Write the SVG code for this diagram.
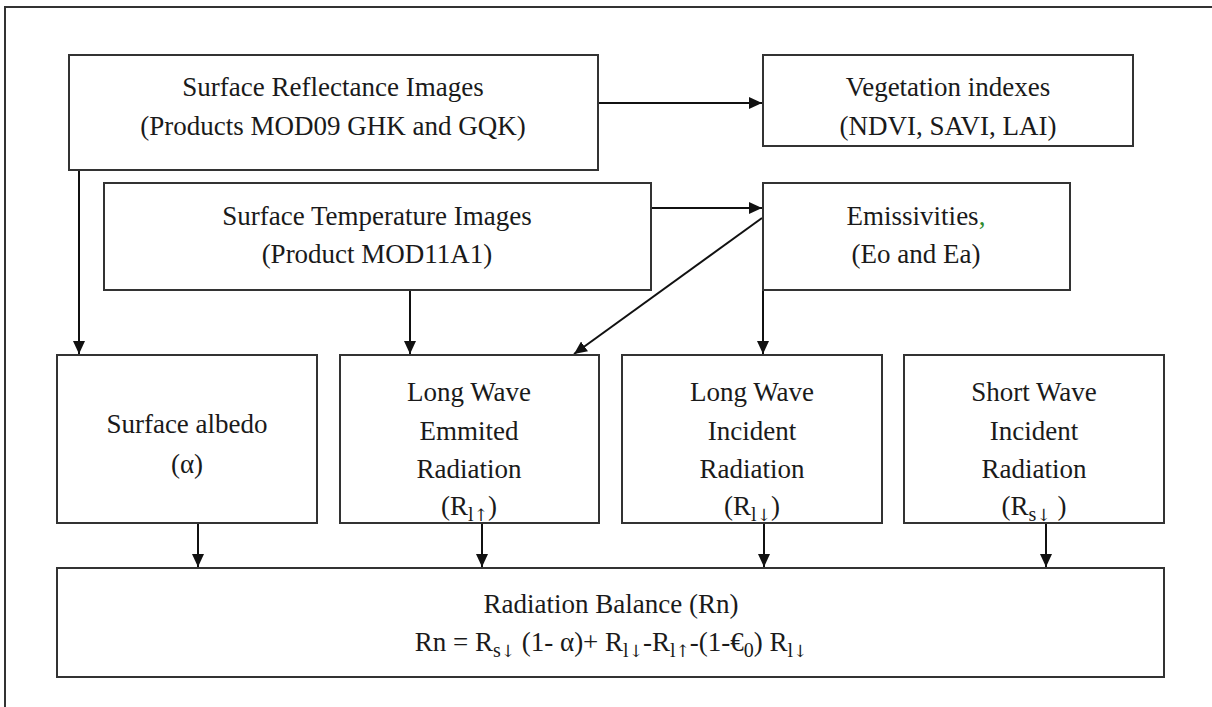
<svg xmlns="http://www.w3.org/2000/svg" width="1212" height="707" viewBox="0 0 1212 707">
<style>
.box{fill:#fff;stroke:#333;stroke-width:2}
.t{font-family:"Liberation Serif","Times New Roman",serif;font-size:27px;fill:#1a1a1a;text-anchor:middle}
.c{stroke:#111;stroke-width:2;fill:none;marker-end:url(#ah)}
.sub{font-size:20px}
.arr{font-family:"DejaVu Serif","DejaVu Sans",serif;font-size:17px;fill:#1a1a1a}
</style>
<defs>
<marker id="ah" markerUnits="userSpaceOnUse" markerWidth="13" markerHeight="12" refX="13" refY="6" orient="auto">
<path d="M0,0 L13,6 L0,12 z" fill="#111"/>
</marker>
</defs>
<rect x="0" y="0" width="1212" height="707" fill="#fff"/>
<path d="M5,707 L5,7 L1212,7" fill="none" stroke="#333" stroke-width="2"/>

<g id="connectors">
<line class="c" x1="598" y1="103" x2="762" y2="103"/>
<line class="c" x1="79" y1="170" x2="79" y2="354"/>
<line class="c" x1="651" y1="208" x2="762" y2="208"/>
<line class="c" x1="410" y1="290" x2="410" y2="354"/>
<line class="c" x1="762" y1="218" x2="574" y2="354"/>
<line class="c" x1="763" y1="290" x2="763" y2="354"/>
<line class="c" x1="198" y1="523" x2="198" y2="567"/>
<line class="c" x1="482" y1="523" x2="482" y2="567"/>
<line class="c" x1="764" y1="523" x2="764" y2="567"/>
<line class="c" x1="1046" y1="523" x2="1046" y2="567"/>
</g>

<g id="surface-reflectance">
<rect class="box" x="69" y="55" width="529" height="115"/>
<text class="t" x="333" y="96">Surface Reflectance Images</text>
<text class="t" x="333" y="135">(Products MOD09 GHK and GQK)</text>
</g>

<g id="vegetation">
<rect class="box" x="763" y="55" width="370" height="91"/>
<text class="t" x="948" y="96">Vegetation indexes</text>
<text class="t" x="948" y="135">(NDVI, SAVI, LAI)</text>
</g>

<g id="surface-temperature">
<rect class="box" x="104" y="183" width="547" height="107"/>
<text class="t" x="377" y="225">Surface Temperature Images</text>
<text class="t" x="377" y="263">(Product MOD11A1)</text>
</g>

<g id="emissivities">
<rect class="box" x="763" y="183" width="307" height="107"/>
<text class="t" x="916" y="225">Emissivities<tspan fill="#2e8b2e">,</tspan></text>
<text class="t" x="916" y="263">(Eo and Ea)</text>
</g>

<g id="albedo">
<rect class="box" x="57" y="355" width="260" height="168"/>
<text class="t" x="187" y="433">Surface albedo</text>
<text class="t" x="187" y="473">(α)</text>
</g>

<g id="lw-emitted">
<rect class="box" x="340" y="355" width="259" height="168"/>
<text class="t" x="469" y="401">Long Wave</text>
<text class="t" x="469" y="440">Emmited</text>
<text class="t" x="469" y="478">Radiation</text>
<text class="t" x="469" y="515">(R<tspan class="sub" dy="6">l</tspan><tspan class="arr">↑</tspan><tspan dy="-6">)</tspan></text>
</g>

<g id="lw-incident">
<rect class="box" x="622" y="355" width="260" height="168"/>
<text class="t" x="752" y="401">Long Wave</text>
<text class="t" x="752" y="440">Incident</text>
<text class="t" x="752" y="478">Radiation</text>
<text class="t" x="752" y="515">(R<tspan class="sub" dy="6">l</tspan><tspan class="arr">↓</tspan><tspan dy="-6">)</tspan></text>
</g>

<g id="sw-incident">
<rect class="box" x="904" y="355" width="260" height="168"/>
<text class="t" x="1034" y="401">Short Wave</text>
<text class="t" x="1034" y="440">Incident</text>
<text class="t" x="1034" y="478">Radiation</text>
<text class="t" x="1034" y="515">(R<tspan class="sub" dy="6">s</tspan><tspan class="arr">↓</tspan><tspan dy="-6"> )</tspan></text>
</g>

<g id="radiation-balance">
<rect class="box" x="57" y="568" width="1107" height="109"/>
<text class="t" x="611" y="613">Radiation Balance (Rn)</text>
<text class="t" x="611" y="651">Rn = R<tspan class="sub" dy="6">s</tspan><tspan class="arr">↓</tspan><tspan dy="-6"> (1- α)+ R</tspan><tspan class="sub" dy="6">l</tspan><tspan class="arr">↓</tspan><tspan dy="-6">-R</tspan><tspan class="sub" dy="6">l</tspan><tspan class="arr">↑</tspan><tspan dy="-6">-(1-€</tspan><tspan class="sub" dy="6">0</tspan><tspan dy="-6">) R</tspan><tspan class="sub" dy="6">l</tspan><tspan class="arr">↓</tspan></text>
</g>
</svg>
